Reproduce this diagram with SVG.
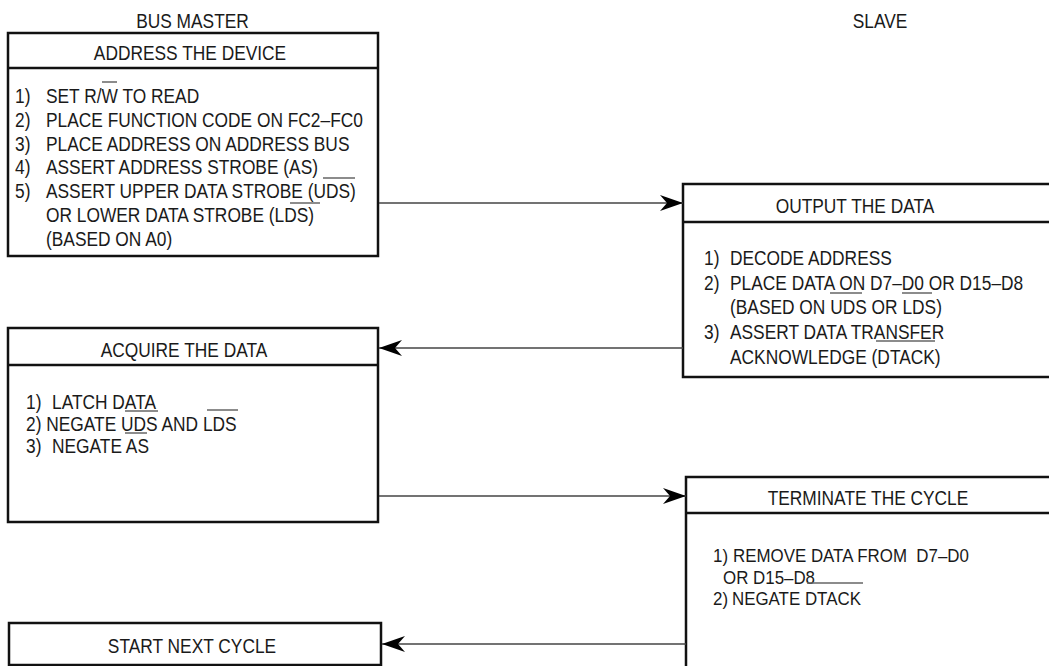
<svg xmlns="http://www.w3.org/2000/svg" width="1049" height="666" viewBox="0 0 1049 666">
<style>
.box{fill:#fff;stroke:#111;stroke-width:2.5}
.div{stroke:#111;stroke-width:2.5}
.t{font-family:"Liberation Sans",Arial,sans-serif;font-size:19.5px;fill:#1a1a1a}
.s{font-size:19px}
.h{text-anchor:middle}
.bar{stroke:#666;stroke-width:1.5}
.con{stroke:#444;stroke-width:1.6;fill:none;marker-end:url(#ah)}
</style>
<defs>
<marker id="ah" markerUnits="userSpaceOnUse" viewBox="-24 -9 25 18" markerWidth="25" markerHeight="18" refX="0" refY="0" orient="auto">
<path d="M0,0 L-23,-8 L-16,0 L-23,8 Z" fill="#000"/>
</marker>
</defs>
<rect width="1049" height="666" fill="#fff"/>

<text class="t h" transform="translate(192.5 28) scale(0.89 1)">BUS MASTER</text>
<text class="t h" transform="translate(880 28) scale(0.89 1)">SLAVE</text>

<g id="node-address">
<rect class="box" x="8" y="33" width="370" height="223"/>
<line class="div" x1="8" y1="68" x2="378" y2="68"/>
<text class="t h" transform="translate(190 60) scale(0.89 1)">ADDRESS THE DEVICE</text>
<text class="t" transform="translate(15 103) scale(0.89 1)">1)<tspan x="34.83">SET R/W TO READ</tspan></text>
<text class="t" transform="translate(15 126.8) scale(0.89 1)">2)<tspan x="34.83">PLACE FUNCTION CODE ON FC2–FC0</tspan></text>
<text class="t" transform="translate(15 150.6) scale(0.89 1)">3)<tspan x="34.83">PLACE ADDRESS ON ADDRESS BUS</tspan></text>
<text class="t" transform="translate(15 174.4) scale(0.89 1)">4)<tspan x="34.83">ASSERT ADDRESS STROBE (AS)</tspan></text>
<text class="t" transform="translate(15 198.2) scale(0.89 1)">5)<tspan x="34.83">ASSERT UPPER DATA STROBE (UDS)</tspan></text>
<text class="t" transform="translate(46 222) scale(0.89 1)">OR LOWER DATA STROBE (LDS)</text>
<text class="t" transform="translate(46 245.8) scale(0.89 1)">(BASED ON A0)</text>
<line class="bar" x1="102" y1="82" x2="117" y2="82"/>
<line class="bar" x1="323" y1="178" x2="355" y2="178"/>
<line class="bar" x1="290" y1="203" x2="320" y2="203"/>
</g>

<g id="node-output">
<rect class="box" x="683" y="184" width="380" height="193"/>
<line class="div" x1="683" y1="222" x2="1063" y2="222"/>
<text class="t h" transform="translate(855 213) scale(0.89 1)">OUTPUT THE DATA</text>
<text class="t" transform="translate(704 265) scale(0.89 1)">1)<tspan x="29.21">DECODE ADDRESS</tspan></text>
<text class="t" transform="translate(704 290) scale(0.89 1)">2)<tspan x="29.21">PLACE DATA ON D7–D0 OR D15–D8</tspan></text>
<text class="t" transform="translate(730 314) scale(0.89 1)">(BASED ON UDS OR LDS)</text>
<text class="t" transform="translate(704 339) scale(0.89 1)">3)<tspan x="29.21">ASSERT DATA TRANSFER</tspan></text>
<text class="t" transform="translate(730 364) scale(0.89 1)">ACKNOWLEDGE (DTACK)</text>
<line class="bar" x1="830" y1="293" x2="862" y2="293"/>
<line class="bar" x1="902" y1="293" x2="932" y2="293"/>
<line class="bar" x1="876" y1="341" x2="935" y2="341"/>
</g>

<g id="node-acquire">
<rect class="box" x="8" y="328" width="370" height="194"/>
<line class="div" x1="8" y1="365" x2="378" y2="365"/>
<text class="t h" transform="translate(184 357) scale(0.89 1)">ACQUIRE THE DATA</text>
<text class="t" transform="translate(26 409) scale(0.89 1)">1)<tspan x="29.21">LATCH DATA</tspan></text>
<text class="t" transform="translate(26 431) scale(0.89 1)">2) NEGATE UDS AND LDS</text>
<text class="t" transform="translate(26 453) scale(0.89 1)">3)<tspan x="29.21">NEGATE AS</tspan></text>
<line class="bar" x1="125" y1="411" x2="158" y2="411"/>
<line class="bar" x1="207" y1="410" x2="238" y2="410"/>
<line class="bar" x1="125" y1="433" x2="147" y2="433"/>
</g>

<g id="node-terminate">
<rect class="box" x="686" y="477" width="380" height="200"/>
<line class="div" x1="686" y1="513" x2="1066" y2="513"/>
<text class="t h" transform="translate(868 505) scale(0.89 1)">TERMINATE THE CYCLE</text>
<text class="t s" transform="translate(713 562) scale(0.89 1)">1)<tspan x="22.47">REMOVE DATA FROM&#160; D7–D0</tspan></text>
<text class="t s" transform="translate(723 583.5) scale(0.89 1)">OR D15–D8</text>
<text class="t s" transform="translate(713 605) scale(0.89 1)">2)<tspan x="21.35">NEGATE DTACK</tspan></text>
<line class="bar" x1="807" y1="583" x2="863" y2="583"/>
</g>

<g id="node-start">
<rect class="box" x="9" y="623" width="372" height="42"/>
<text class="t h" transform="translate(192 653) scale(0.89 1)">START NEXT CYCLE</text>
</g>

<g id="connectors">
<line class="con" x1="379" y1="203" x2="683" y2="203"/>
<line class="con" x1="683" y1="348" x2="379" y2="348"/>
<line class="con" x1="379" y1="496" x2="686" y2="496"/>
<line class="con" x1="686" y1="644" x2="382" y2="644"/>
</g>
</svg>
